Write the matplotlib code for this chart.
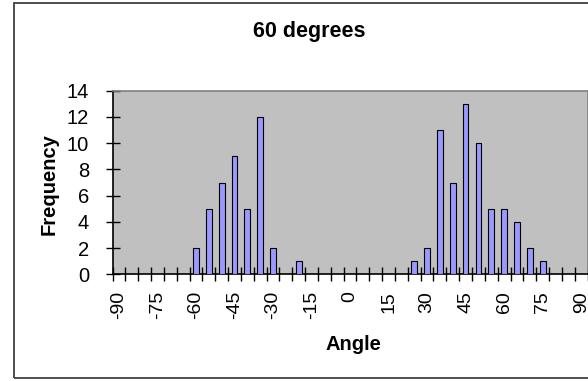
import matplotlib
matplotlib.use("Agg")
import matplotlib.pyplot as plt
from matplotlib.patches import Rectangle
import numpy as np

plt.rcParams['font.family'] = ['Liberation Sans', 'DejaVu Sans']

# histogram bins, 5 degree steps from -90 to 90
angles = list(range(-90, 95, 5))
counts = {
    -60: 2, -55: 5, -50: 7, -45: 9, -40: 5, -35: 12, -30: 2, -20: 1,
    25: 1, 30: 2, 35: 11, 40: 7, 45: 13, 50: 10, 55: 5, 60: 5, 65: 4,
    70: 2, 75: 1,
}
frequency = [counts.get(a, 0) for a in angles]
y_ticks = [0, 2, 4, 6, 8, 10, 12, 14]

W, H = 588, 381
fig = plt.figure(figsize=(W / 100, H / 100), dpi=100)

# chart area frame (right side runs off the image)
fig.patches.append(Rectangle((14 / W, 3 / H), 1.2, (378 - 3) / H,
                             transform=fig.transFigure, fill=False,
                             edgecolor='#404040', linewidth=1.3, clip_on=False))

x0, x1 = 112.5, 112.5 + 37 * 12.84
y_top, y_bot = 90.7, 274.3
ax = fig.add_axes([x0 / W, (H - y_bot) / H, (x1 - x0) / W, (y_bot - y_top) / H])
ax.set_facecolor('#C0C0C0')

pos = np.arange(len(angles))
ax.bar(pos, frequency, width=0.45, color='#9999FF', edgecolor='black', linewidth=0.8, zorder=3)

ax.set_xlim(-0.5, len(angles) - 0.5)
ax.set_ylim(0, 14)

for side in ['top', 'right']:
    ax.spines[side].set_color('#808080')
    ax.spines[side].set_linewidth(1.2)
for side in ['left', 'bottom']:
    ax.spines[side].set_color('black')
    ax.spines[side].set_linewidth(1.2)

# tick marks sit between categories, labels at every third category
ax.set_xticks(np.arange(len(angles) + 1) - 0.5)
ax.set_xticklabels([])
ax.tick_params(axis='x', which='major', direction='inout', length=10, width=1, colors='black')
ax.set_xticks(pos[::3], minor=True)
ax.set_xticklabels([str(a) for a in angles[::3]], minor=True, rotation=90, fontsize=14)
ax.tick_params(axis='x', which='minor', length=0, pad=12)

ax.set_yticks(y_ticks)
ax.set_yticklabels([str(v) for v in y_ticks], fontsize=14.5)
ax.tick_params(axis='y', direction='inout', length=10, width=1, pad=12)

fig.text(309 / W, 1 - 31 / H, '60 degrees', ha='center', va='center',
         fontsize=15.5, fontweight='bold')
fig.text(353 / W, 1 - 345 / H, 'Angle', ha='center', va='center',
         fontsize=14.5, fontweight='bold')
fig.text(49 / W, 1 - 184 / H, 'Frequency', ha='center', va='center',
         rotation=90, fontsize=14.5, fontweight='bold')

fig.savefig('out.png', dpi=100)
